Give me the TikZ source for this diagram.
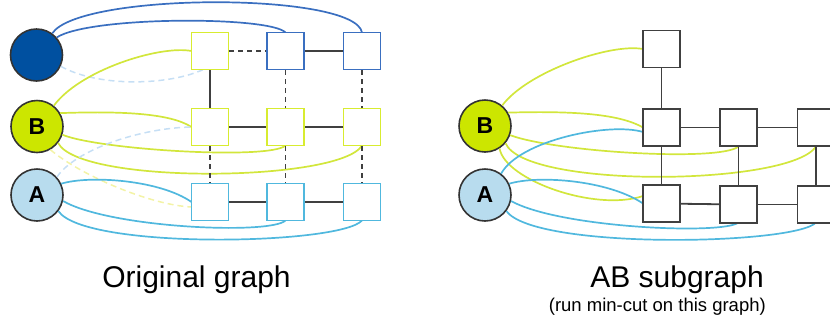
\documentclass[tikz,border=0pt]{standalone}
\usepackage{fontspec}
\setmainfont{Liberation Sans}
\definecolor{ylwline}{HTML}{D2E63C}
\definecolor{ylwsq}{HTML}{D8EC30}
\definecolor{ylwfill}{HTML}{CCE600}
\definecolor{dbfill}{HTML}{0050A0}
\definecolor{dbline}{HTML}{3A6FC0}
\definecolor{lbline}{HTML}{50B8DE}
\definecolor{lbfill}{HTML}{B8DCEE}
\definecolor{palebl}{HTML}{C6DFF5}
\definecolor{paleyl}{HTML}{F3F3A6}
\definecolor{edgegray}{HTML}{404040}
\begin{document}
\begin{tikzpicture}[x=1pt,y=1pt,
  term/.style={circle,draw=black!80,line width=1.6pt,minimum size=52pt,inner sep=0pt,font=\bfseries\fontsize{23}{23}\selectfont},
  sq/.style={rectangle,fill=white,line width=1.8pt,minimum size=37pt,inner sep=0pt},
  sqy/.style={sq,draw=ylwsq},
  sqd/.style={sq,draw=dbline},
  sqb/.style={sq,draw=lbline},
  sqk/.style={sq,draw=edgegray},
  cy/.style={draw=ylwline,line width=1.7pt},
  cd/.style={draw=dbline,line width=1.7pt},
  cb/.style={draw=lbline,line width=1.7pt},
  pdb/.style={draw=palebl,line width=1.5pt,dash pattern=on 6pt off 4pt},
  pdy/.style={draw=paleyl,line width=1.5pt,dash pattern=on 6pt off 4pt},
  ed/.style={draw=edgegray,line width=1.8pt},
  edd/.style={ed,dash pattern=on 5pt off 4pt},
  lbl/.style={font=\fontsize{30}{30}\selectfont,inner sep=0pt},
  sublbl/.style={font=\fontsize{18.5}{18.5}\selectfont,inner sep=0pt}]
\path[use as bounding box] (0,0) rectangle (830,-325);
\clip (0,0) rectangle (830,-325);
% ---------- left: original graph ----------
\node[term,fill=dbfill] (D) at (36.5,-55) {};
\node[term,fill=ylwfill] (B) at (37,-126.5) {B};
\node[term,fill=lbfill] (A) at (37,-195) {A};
% curves
\draw[cd] (D.41) .. controls (90,-16) and (270,-16) .. (285.5,-32.5) coordinate (l12n);
\draw[cd] (D.54) .. controls (80,8) and (355,8) .. (362,-32.5) coordinate (l13n);
\draw[pdb] (D.-25) .. controls (100,-88) and (170,-85) .. (203.3,-69.5) coordinate (l11b);
\draw[cy] (B.51) .. controls (80,-70) and (160,-45) .. (191.5,-51) coordinate (l11w);
\draw[cy] (B.30) .. controls (120,-111) and (170,-113) .. (191.5,-127) coordinate (l21w);
\draw[cy] (B.-18) .. controls (100,-150) and (270,-160) .. (285.5,-145.5) coordinate (l22s);
\draw[cy] (B.-38) .. controls (80,-185) and (340,-182) .. (362,-145.5) coordinate (l23s);
\draw[pdy] (B.-60) .. controls (80,-175) and (150,-205) .. (191.5,-207);
\draw[pdb] (A.42) .. controls (75,-150) and (140,-128) .. (l21w);
\draw[cb] (A.25) .. controls (90,-175) and (160,-180) .. (191.5,-202) coordinate (l31w);
\draw[cb] (A.-13) .. controls (110,-228) and (270,-235) .. (285.5,-220.5) coordinate (l32s);
\draw[cb] (A.-37) .. controls (85,-250) and (340,-245) .. (362,-220.5) coordinate (l33s);
% squares
\node[sqy] (l11) at (210,-51) {};
\node[sqd] (l12) at (285.5,-51) {};
\node[sqd] (l13) at (362,-51) {};
\node[sqy] (l21) at (210,-127) {};
\node[sqy] (l22) at (285.5,-127) {};
\node[sqy] (l23) at (362,-127) {};
\node[sqb] (l31) at (210,-202) {};
\node[sqb] (l32) at (285.5,-202) {};
\node[sqb] (l33) at (362,-202) {};
% grid edges
\draw[edd] (l11) -- (l12);
\draw[ed] (l12) -- (l13);
\draw[ed] (l11) -- (l21);
\draw[edd] (l12) -- (l22);
\draw[edd] (l13) -- (l23);
\draw[ed] (l21) -- (l22);
\draw[ed] (l22) -- (l23);
\draw[edd] (l21) -- (l31);
\draw[edd] (l22) -- (l32);
\draw[edd] (l23) -- (l33);
\draw[ed] (l31) -- (l32);
\draw[ed] (l32) -- (l33);
% ---------- right: AB subgraph ----------
\node[term,fill=ylwfill] (B2) at (485,-126) {B};
\node[term,fill=lbfill] (A2) at (485,-195) {A};
\draw[cy] (B2.50) .. controls (527,-72) and (610,-43) .. (643,-49) coordinate (r01w);
\draw[cy] (B2.30) .. controls (568,-111) and (618,-113) .. (643,-127.5) coordinate (r11w);
\draw[cy] (B2.-20) .. controls (555,-152) and (720,-162) .. (738.5,-146.5) coordinate (r12s);
\draw[cy] (B2.-40) .. controls (525,-189) and (790,-186) .. (816,-146.5) coordinate (r13s);
\draw[cy] (B2.-57) .. controls (505,-180) and (595,-212) .. (643,-196) coordinate (r21a);
\draw[cb] (A2.53) .. controls (520,-140) and (610,-122) .. (643,-132) coordinate (r11a);
\draw[cb] (A2.25) .. controls (538,-175) and (608,-180) .. (643,-203.5) coordinate (r21w);
\draw[cb] (A2.-13) .. controls (560,-228) and (723,-235) .. (738.5,-222.5) coordinate (r22s);
\draw[cb] (A2.-37) .. controls (535,-250) and (795,-245) .. (816,-222.5) coordinate (r23s);
\node[sqk] (r01) at (661.5,-49) {};
\node[sqk] (r11) at (661.5,-127.5) {};
\node[sqk] (r12) at (738.5,-127.5) {};
\node[sqk] (r13) at (816,-127.5) {};
\node[sqk] (r21) at (661.5,-203.5) {};
\node[sqk] (r22) at (738.5,-204.5) {};
\node[sqk] (r23) at (816,-204.5) {};
\draw[ed] (r01) -- (r11);
\draw[ed] (r11) -- (r12);
\draw[ed] (r12) -- (r13);
\draw[ed] (r11) -- (r21);
\draw[ed] (r12) -- (r22);
\draw[ed] (r13) -- (r23);
\draw[ed] (r21) -- (r22);
\draw[ed] (r22) -- (r23);
% ---------- labels ----------
\node[lbl,anchor=base] (t1) at (196.5,-287) {Original graph};
\node[lbl,anchor=base east] (t2) at (764,-287) {AB subgraph};
\node[sublbl,anchor=base east] (t3) at (766,-311) {(run min-cut on this graph)};
\end{tikzpicture}
\end{document}
